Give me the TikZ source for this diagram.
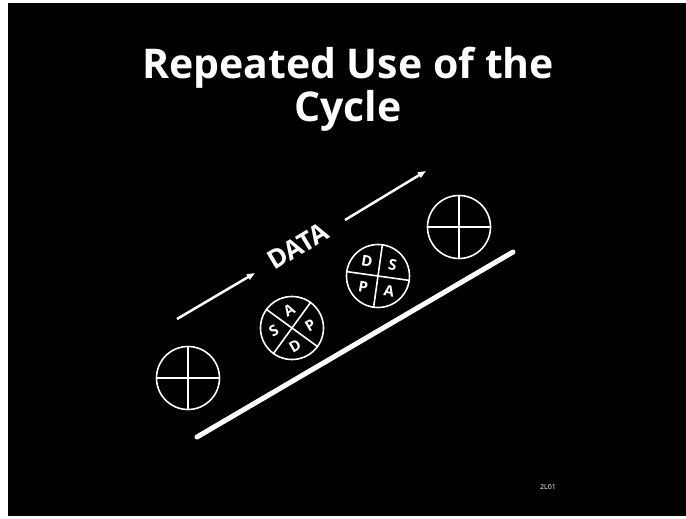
\documentclass[tikz,border=0pt]{standalone}
\usepackage{fontspec}
\setmainfont{Open Sans}
\usetikzlibrary{calc,arrows.meta}

\tikzset{every picture/.style={line width=0.75pt}}

\begin{document}
\begin{tikzpicture}[x=1pt,y=1pt,yscale=-1,xscale=1,
  wheel/.style={draw=white, line width=1.6, circle, minimum size=63pt, inner sep=0pt},
  spoke/.style={draw=white, line width=1.6},
  qletter/.style={text=white, font=\fontsize{15}{15}\selectfont\bfseries, inner sep=0pt},
  flow/.style={draw=white, line width=2.5, -{Triangle[length=8pt,width=6pt]}},
  titletext/.style={text=white, font=\fontsize{41}{43}\selectfont\bfseries, align=center, inner sep=0pt}]
%set diagram: 686 x 519
\useasboundingbox (0,0) rectangle (686,519);
\fill [white] (0,0) rectangle (686,519);
\fill [black] (8,3) rectangle (686,516);

% Title
\node [titletext] (title) at (348,89) {Repeated Use of the\\Cycle};

%Shape: Circle (plain, lower left)
\node [wheel] (w1) at (188,378) {};
\draw [spoke] (w1.north) -- (w1.south);
\draw [spoke] (w1.west) -- (w1.east);
%Shape: Circle A P S D
\node [wheel] (w2) at (292,328) {};
\draw [spoke] (w2.54) -- (w2.234);
\draw [spoke] (w2.144) -- (w2.324);
%Shape: Circle D S P A
\node [wheel] (w3) at (378,276) {};
\draw [spoke] (w3.82) -- (w3.262);
\draw [spoke] (w3.172) -- (w3.352);
%Shape: Circle (plain, upper right)
\node [wheel] (w4) at (459,227) {};
\draw [spoke] (w4.north) -- (w4.south);
\draw [spoke] (w4.west) -- (w4.east);

% Quadrant letters
\node [qletter, rotate=30] (a2) at ($(w2.center)!0.57!(w2.99)$) {A};
\node [qletter, rotate=30] (p2) at ($(w2.center)!0.57!(w2.9)$) {P};
\node [qletter, rotate=30] (d2) at ($(w2.center)!0.57!(w2.279)$) {D};
\node [qletter, rotate=30] (s2) at ($(w2.center)!0.57!(w2.189)$) {S};
\node [qletter, rotate=-10] (d3) at ($(w3.center)!0.57!(w3.127)$) {D};
\node [qletter, rotate=-10] (s3) at ($(w3.center)!0.57!(w3.37)$) {S};
\node [qletter, rotate=-10] (p3) at ($(w3.center)!0.57!(w3.217)$) {P};
\node [qletter, rotate=-10] (a3) at ($(w3.center)!0.57!(w3.307)$) {A};

%Straight Lines (base)
\coordinate (base0) at (197,437);
\coordinate (base1) at (513,252);
\draw [white, line width=5, line cap=round] (base0) -- (base1);

% DATA arrows
\coordinate (flow0) at (177,319);
\coordinate (flow1) at (255,273);
\coordinate (flow2) at (345,220);
\coordinate (flow3) at (426,171);
\draw [flow] (flow0) -- (flow1);
\draw [flow] (flow2) -- (flow3);

% Text Node
\node [text=white, font=\fontsize{26}{26}\selectfont\bfseries, rotate=31, inner sep=0pt] (data) at (298,246) {DATA};
% Text Node
\node [text=white, font=\fontsize{7}{7}\selectfont, inner sep=0pt] (slide) at (548,487) {2L01};

\end{tikzpicture}
\end{document}
